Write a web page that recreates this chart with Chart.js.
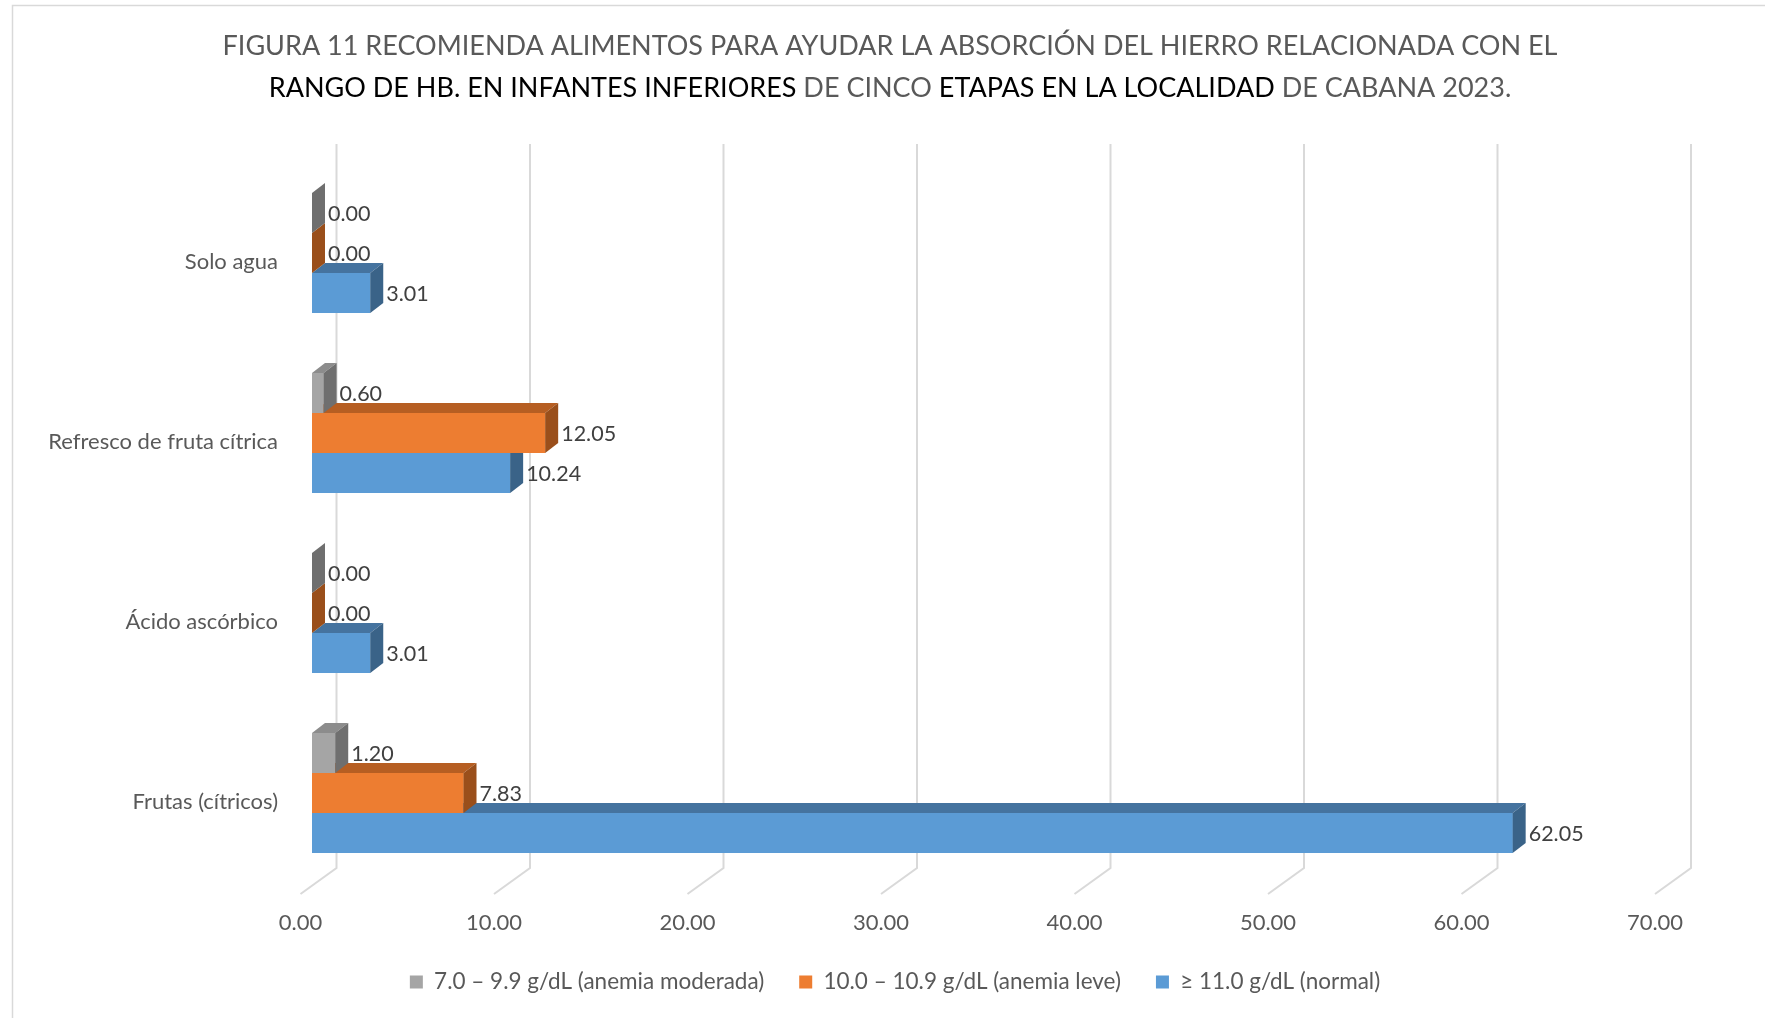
<!DOCTYPE html>
<html>
<head>
<meta charset="utf-8">
<script src="https://cdn.jsdelivr.net/npm/chart.js@4.4.1/dist/chart.umd.min.js"></script>
<style>
  html, body { margin: 0; padding: 0; background: #fff; }
  #wrap { width: 1765px; height: 1018px; }
</style>
</head>
<body>
<div id="wrap"><canvas id="chart" width="1765" height="1018"></canvas></div>
<script>
// categories, top to bottom as shown
const categories = ['Solo agua', 'Refresco de fruta cítrica', 'Ácido ascórbico', 'Frutas (cítricos)'];
const seriesNames = ['7.0 – 9.9 g/dL (anemia moderada)', '10.0 – 10.9 g/dL (anemia leve)', '≥ 11.0 g/dL (normal)'];
const moderada = [0.00, 0.60, 0.00, 1.20];
const leve = [0.00, 12.05, 0.00, 7.83];
const normal = [3.01, 10.24, 3.01, 62.05];
const xTicks = [0, 10, 20, 30, 40, 50, 60, 70];

// front / top / side colours for each series
const faces = [
    { front: '#A5A5A5', top: '#8C8C8C', side: '#6F6F6F' },
    { front: '#ED7D31', top: '#B65E22', side: '#9A4F1B' },
    { front: '#5B9BD5', top: '#45739F', side: '#3A6388' }
];

const FONT = 'Lato, "Open Sans", sans-serif';
const DX = 13, DY = 10;          // bar depth
const BACK = 24.5;               // back wall shift of gridlines
const FLOOR_FRONT = -11.5;       // floor front edge shift
const FLOOR_BACK_Y = 868, FLOOR_FRONT_Y = 894, WALL_TOP = 144;

// frame, title, walls, 3d faces and value labels
const framePlugin = {
    id: 'frame',
    beforeDraw(chart) {
        const ctx = chart.ctx;
        ctx.save();
        ctx.fillStyle = '#fff';
        ctx.fillRect(0, 0, chart.width, chart.height);
        ctx.strokeStyle = '#D9D9D9';
        ctx.lineWidth = 1.5;
        ctx.strokeRect(12.5, 5.5, chart.width + 20, chart.height + 20);

        ctx.font = '27px ' + FONT;
        ctx.textBaseline = 'alphabetic';
        const lines = [
            [['FIGURA 11 RECOMIENDA ALIMENTOS PARA AYUDAR LA ABSORCIÓN DEL HIERRO RELACIONADA CON EL', '#595959']],
            [['RANGO DE HB. EN INFANTES INFERIORES', '#000000'], [' DE CINCO ', '#595959'],
             ['ETAPAS EN LA LOCALIDAD', '#000000'], [' DE CABANA 2023.', '#595959']]
        ];
        const baselines = [55, 97];
        lines.forEach(function (parts, li) {
            let total = 0;
            parts.forEach(p => { total += ctx.measureText(p[0]).width; });
            let x = 890 - total / 2;
            parts.forEach(p => {
                ctx.fillStyle = p[1];
                ctx.textAlign = 'left';
                ctx.fillText(p[0], x, baselines[li]);
                x += ctx.measureText(p[0]).width;
            });
        });
        ctx.restore();
    },
    beforeDatasetsDraw(chart) {
        // back wall gridlines and floor
        const ctx = chart.ctx;
        const xs = chart.scales.x;
        ctx.save();
        ctx.strokeStyle = '#D9D9D9';
        ctx.lineWidth = 2;
        xTicks.forEach(function (v) {
            const px = xs.getPixelForValue(v);
            ctx.beginPath();
            ctx.moveTo(px + BACK, WALL_TOP);
            ctx.lineTo(px + BACK, FLOOR_BACK_Y);
            ctx.lineTo(px + FLOOR_FRONT, FLOOR_FRONT_Y);
            ctx.stroke();
        });
        ctx.restore();
    },
    afterDatasetsDraw(chart) {
        const ctx = chart.ctx;
        ctx.save();
        const n = chart.data.datasets.length;
        categories.forEach(function (c, i) {
            for (let d = n - 1; d >= 0; d--) {
                const bar = chart.getDatasetMeta(d).data[i];
                const f = faces[d];
                const x0 = bar.base, x1 = bar.x;
                const t = bar.y - bar.height / 2, b = bar.y + bar.height / 2;
                ctx.fillStyle = f.front;
                ctx.fillRect(x0, t, x1 - x0, b - t);
                // top face
                ctx.fillStyle = f.top;
                ctx.beginPath();
                ctx.moveTo(x0, t);
                ctx.lineTo(x1, t);
                ctx.lineTo(x1 + DX, t - DY);
                ctx.lineTo(x0 + DX, t - DY);
                ctx.closePath();
                ctx.fill();
                // side face
                ctx.fillStyle = f.side;
                ctx.beginPath();
                ctx.moveTo(x1, t);
                ctx.lineTo(x1 + DX, t - DY);
                ctx.lineTo(x1 + DX, b - DY);
                ctx.lineTo(x1, b);
                ctx.closePath();
                ctx.fill();
            }
        });
        // value labels
        ctx.font = '21.5px ' + FONT;
        ctx.fillStyle = '#404040';
        ctx.textAlign = 'left';
        ctx.textBaseline = 'middle';
        chart.data.datasets.forEach(function (ds, d) {
            chart.getDatasetMeta(d).data.forEach(function (bar, i) {
                ctx.fillText(ds.data[i].toFixed(2), bar.x + DX + 3, bar.y + 1);
            });
        });
        ctx.restore();
    }
};

new Chart(document.getElementById('chart'), {
    type: 'bar',
    data: {
        labels: categories,
        datasets: [
            { label: seriesNames[0], data: moderada, backgroundColor: faces[0].front },
            { label: seriesNames[1], data: leve, backgroundColor: faces[1].front },
            { label: seriesNames[2], data: normal, backgroundColor: faces[2].front }
        ]
    },
    options: {
        indexAxis: 'y',
        responsive: false,
        animation: false,
        categoryPercentage: 0.6667,
        barPercentage: 1,
        layout: { padding: { top: 163, left: 25, right: 0, bottom: 14.75 } },
        scales: {
            x: {
                min: 0,
                max: 70,
                grid: { display: false, drawTicks: false },
                border: { display: false },
                afterBuildTicks(scale) {
                    scale.ticks = xTicks.map(v => ({ value: v }));
                },
                afterFit(scale) { scale.height = 52.75; },
                ticks: {
                    padding: 27,
                    labelOffset: FLOOR_FRONT,
                    color: '#595959',
                    font: { family: FONT, size: 22 },
                    callback: v => Number(v).toFixed(2)
                }
            },
            y: {
                grid: { display: false, drawTicks: false },
                border: { display: false },
                afterFit(scale) { scale.width = 287; },
                ticks: {
                    padding: 34,
                    labelOffset: 9,
                    color: '#595959',
                    font: { family: FONT, size: 22 }
                }
            },
            // empty right side margin of the plot
            yRight: {
                type: 'linear',
                position: 'right',
                grid: { display: false, drawTicks: false },
                border: { display: false },
                ticks: { display: false },
                afterFit(scale) { scale.width = 98.5; }
            }
        },
        plugins: {
            title: { display: false },
            tooltip: { enabled: false },
            legend: {
                position: 'bottom',
                labels: {
                    boxWidth: 13,
                    boxHeight: 13,
                    padding: 35,
                    color: '#595959',
                    font: { family: FONT, size: 22.5 }
                }
            }
        }
    },
    plugins: [framePlugin]
});
</script>
</body>
</html>
